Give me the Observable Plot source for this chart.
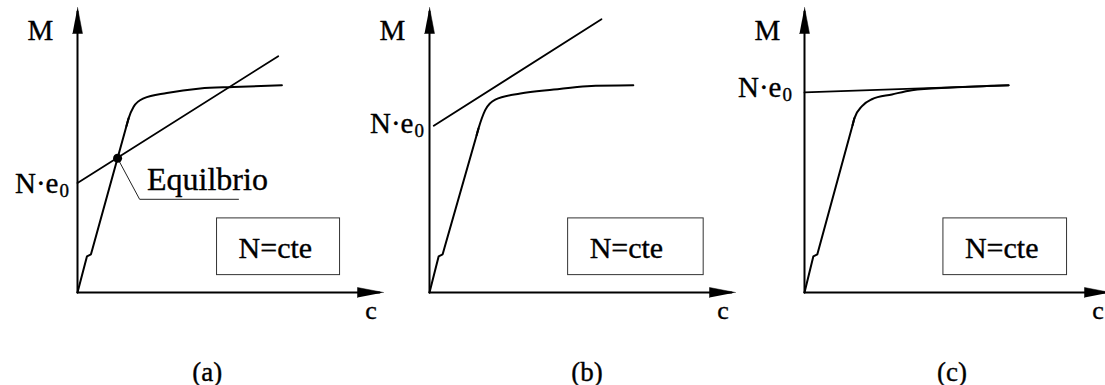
<!DOCTYPE html>
<html>
<head>
<meta charset="utf-8">
<script src="https://cdn.jsdelivr.net/npm/d3@7"></script>
<script src="https://cdn.jsdelivr.net/npm/@observablehq/plot@0.6"></script>
<style>
  html, body { margin: 0; padding: 0; background: #fff; }
  #fig { position: relative; width: 1105px; height: 385px; overflow: hidden; background: #fff; }
  #fig svg { position: absolute; top: 0; overflow: visible; }
</style>
</head>
<body>
<div id="fig"></div>
<script>
// Moment–curvature diagrams (M against curvature c) under constant axial load N.

const panelLabels = ["(a)", "(b)", "(c)"];

// Axis lengths, in diagram units
const cAxisEnd = 10;
const mAxisEnd = 10;

// M–c response curves, [c, M]; the first six points form the straight elastic branch
const curveA = [[0, 0], [0.31, 1.27], [0.44, 1.34], [0.50, 1.57], [1.60, 5.84], [1.67, 6.11],
                [1.83, 6.51], [2.16, 6.81], [2.92, 7.00], [4.01, 7.16], [5.09, 7.21], [6.68, 7.27]];
const curveB = [[0, 0], [0.30, 1.27], [0.43, 1.34], [0.49, 1.57], [1.54, 5.52], [1.60, 5.75],
                [1.82, 6.40], [2.15, 6.77], [2.97, 6.98], [4.06, 7.12], [5.15, 7.24], [6.66, 7.27]];
const curveC = [[0, 0], [0.29, 1.27], [0.42, 1.34], [0.48, 1.58], [1.57, 5.87], [1.63, 6.11],
                [1.88, 6.54], [2.20, 6.78], [2.86, 6.95], [3.51, 7.10], [4.82, 7.19], [6.67, 7.27]];

// External moment lines starting at N·e0, [c, M]
const lineA = [[0, 3.84], [6.56, 8.29]];
const lineB = [[0.14, 5.85], [5.62, 9.59]];
const lineC = [[0, 7.02], [6.67, 7.27]];

// Equilibrium point in panel (a) and its callout path
const equilibrium = [1.31, 4.71];
const equilibriumLeader = [[1.31, 4.71], [2.03, 3.27], [5.26, 3.27]];

// "N=cte" boxes: [c1, c2, M1, M2]
const boxA = [4.56, 8.58, 0.61, 2.60];
const boxB = [4.53, 8.96, 0.61, 2.60];
const boxC = [4.54, 8.58, 0.61, 2.60];

const curves = [curveA, curveB, curveC];
const lines = [lineA, lineB, lineC];
const boxes = [boxA, boxB, boxC];

// Layout of each diagram
const W = 385, H = 385;
const M_LEFT = 77, M_RIGHT = 2, M_TOP = 7, M_BOTTOM = 93;
const svgLeft = [0, 352, 727];
const HEAD_LEN = 26, HEAD_HALF = 5;
const FONT = "'Liberation Serif', 'Times New Roman', serif";
const TEXT = {fontFamily: FONT, fill: "black", stroke: "black", strokeWidth: 0.35, lineAnchor: "bottom"};
const panelStyle = [
  {neDx: -19, neDy: 10, labelX: 4.24},
  {neDx: -16, neDy: 7.5, labelX: 5.15},
  {neDx: -23, neDy: 4.5, labelX: 4.82}
];

function diagram(i) {
  const kx = (W - M_LEFT - M_RIGHT) / cAxisEnd;   // px per c unit
  const ky = (H - M_TOP - M_BOTTOM) / mAxisEnd;   // px per M unit
  const st = panelStyle[i];
  const line = lines[i];
  const box = boxes[i];
  const curve = curves[i];

  const cHead = [[cAxisEnd, 0], [cAxisEnd - HEAD_LEN / kx, HEAD_HALF / ky], [cAxisEnd - HEAD_LEN / kx, -HEAD_HALF / ky]];
  const mHead = [[0, mAxisEnd], [HEAD_HALF / kx, mAxisEnd - HEAD_LEN / ky], [-HEAD_HALF / kx, mAxisEnd - HEAD_LEN / ky]];

  const marks = [
    // axes with filled arrowheads
    Plot.line([[0, 0], [cAxisEnd - 4 / kx, 0]], {stroke: "black", strokeWidth: 2}),
    Plot.line([[0, 0], [0, mAxisEnd - 4 / ky]], {stroke: "black", strokeWidth: 2}),
    Plot.line(cHead, {fill: "black", stroke: "black", strokeWidth: 0.5}),
    Plot.line(mHead, {fill: "black", stroke: "black", strokeWidth: 0.5}),

    // N=cte box
    Plot.rect([box], {x1: d => d[0], x2: d => d[1], y1: d => d[2], y2: d => d[3],
                      fill: "none", stroke: "#333", strokeWidth: 1}),
    Plot.text([box], {...TEXT, x: d => d[0], y: d => (d[2] + d[3]) / 2, text: () => "N=cte",
                      dx: 58.3, dy: 11.6, textAnchor: "middle", fontSize: 30}),

    // external moment line
    Plot.line(line, {stroke: "black", strokeWidth: 1.8}),

    // M–c curve: straight elastic branch, then the smooth yielding knee and plateau
    Plot.line(curve.slice(0, 6), {stroke: "black", strokeWidth: 2, strokeLinejoin: "round"}),
    Plot.line(curve.slice(4), {curve: "monotone-x", stroke: "black", strokeWidth: 2}),

    // N·e0 label at the line's start
    Plot.text([line[0]], {...TEXT, x: 0, y: d => d[1], text: () => "N·e", textAnchor: "end",
                          dx: st.neDx, dy: st.neDy, fontSize: 29}),
    Plot.text([line[0]], {...TEXT, x: 0, y: d => d[1], text: () => "0", textAnchor: "start",
                          dx: st.neDx + 1, dy: st.neDy + 4, fontSize: 19}),

    // axis names
    Plot.text(["M"], {...TEXT, x: 0, y: mAxisEnd, text: d => d, dx: -37, dy: 32.3,
                      textAnchor: "middle", fontSize: 29}),
    Plot.text(["c"], {...TEXT, x: cAxisEnd, y: 0, text: d => d, dx: -12.5, dy: 26,
                      textAnchor: "middle", fontSize: 26}),

    // panel caption
    Plot.text([panelLabels[i]], {...TEXT, x: st.labelX, frameAnchor: "bottom", text: d => d, dy: 88,
                                 textAnchor: "middle", fontSize: 27})
  ];

  if (i === 0) {
    marks.push(
      Plot.line(equilibriumLeader, {stroke: "#222", strokeWidth: 1}),
      Plot.dot([equilibrium], {x: d => d[0], y: d => d[1], r: 4.5, fill: "black", stroke: "none"}),
      Plot.text([equilibriumLeader[1]], {...TEXT, x: d => d[0], y: d => d[1], text: () => "Equilbrio",
                                         dx: 7.4, dy: -9, textAnchor: "start", fontSize: 32})
    );
  }

  return Plot.plot({
    width: W,
    height: H,
    marginLeft: M_LEFT,
    marginRight: M_RIGHT,
    marginTop: M_TOP,
    marginBottom: M_BOTTOM,
    x: {domain: [0, cAxisEnd], axis: null},
    y: {domain: [0, mAxisEnd], axis: null},
    style: {background: "transparent", overflow: "visible", fontFamily: FONT},
    marks
  });
}

const fig = document.getElementById("fig");
panelLabels.forEach((_, i) => {
  const svg = diagram(i);
  svg.style.left = svgLeft[i] + "px";
  svg.style.position = "absolute";
  svg.style.top = "0px";
  fig.appendChild(svg);
});
</script>
</body>
</html>
